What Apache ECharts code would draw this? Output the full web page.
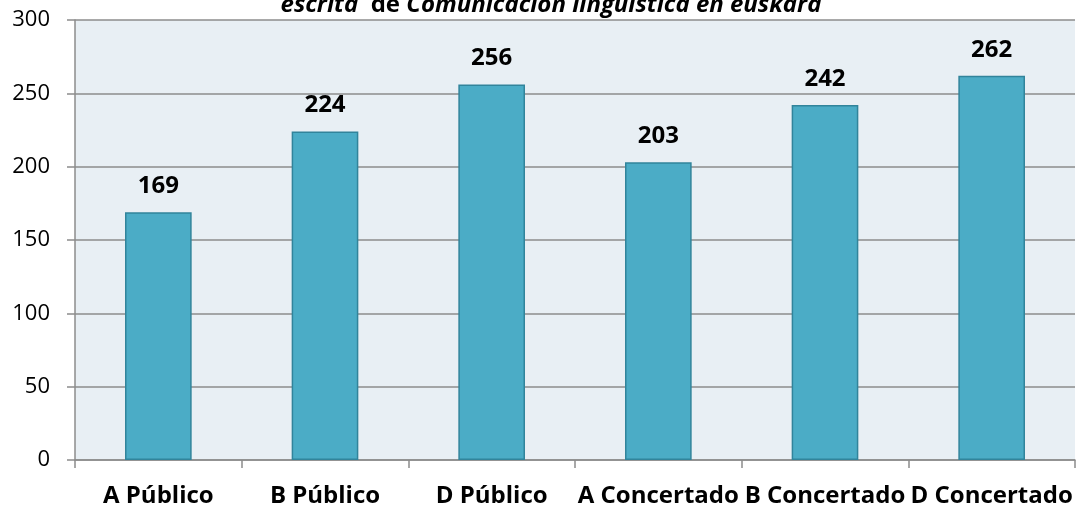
<!DOCTYPE html>
<html>
<head>
<meta charset="utf-8">
<script src="https://cdn.jsdelivr.net/npm/echarts@6/dist/echarts.min.js"></script>
<style>
  html, body { margin: 0; padding: 0; background: #fff; }
  #chart { width: 1078px; height: 512px; }
</style>
</head>
<body>
<div id="chart"></div>
<script>
var categories = ["A Público", "B Público", "D Público", "A Concertado", "B Concertado", "D Concertado"];
var values = [169, 224, 256, 203, 242, 262];
var yTicks = [0, 50, 100, 150, 200, 250, 300];

var myChart = echarts.init(document.getElementById("chart"));
var option = {
  backgroundColor: "#ffffff",
  textStyle: { fontFamily: "Open Sans" },
  title: {
    // only the bottom of the title is visible in the original
    text: "{i|escrita}  {n|de} {i|Comunicación lingüística en euskara}",
    left: 546,
    textAlign: "center",
    top: -12,
    textStyle: {
      fontSize: 24,
      fontWeight: "bold",
      fontFamily: "Open Sans",
      color: "#000",
      rich: {
        i: { fontSize: 24, fontWeight: "bold", fontStyle: "italic", color: "#000", fontFamily: "Open Sans" },
        n: { fontSize: 24, fontWeight: "bold", color: "#000", fontFamily: "Open Sans" }
      }
    }
  },
  grid: {
    left: 75,
    right: 3,
    top: 20,
    bottom: 52,
    containLabel: false,
    show: true,
    backgroundColor: "#e8eff4",
    borderWidth: 0
  },
  xAxis: {
    type: "category",
    data: categories,
    axisLine: { show: true, lineStyle: { color: "#8c8c8c", width: 1.5 } },
    axisTick: { show: true, length: 8, alignWithLabel: false, lineStyle: { color: "#8c8c8c", width: 1.5 } },
    axisLabel: {
      interval: 0,
      margin: 24,
      fontSize: 24,
      fontWeight: "bold",
      color: "#000",
      fontFamily: "Open Sans"
    }
  },
  yAxis: {
    type: "value",
    min: yTicks[0],
    max: yTicks[yTicks.length - 1],
    interval: 50,
    axisLine: { show: true, lineStyle: { color: "#8c8c8c", width: 1.5 } },
    axisTick: { show: true, inside: false, length: 8, lineStyle: { color: "#8c8c8c", width: 1.5 } },
    splitLine: { show: true, lineStyle: { color: "#8c8c8c", width: 1.5 } },
    axisLabel: { fontSize: 22, color: "#000", margin: 25, fontFamily: "Open Sans" }
  },
  series: [
    {
      type: "bar",
      data: values,
      barWidth: "40%",
      itemStyle: { color: "#4bacc6", borderColor: "#31849b", borderWidth: 1.5 },
      label: {
        show: true,
        position: "top",
        distance: 14,
        fontSize: 24,
        fontWeight: "bold",
        color: "#000",
        fontFamily: "Open Sans"
      }
    }
  ]
};
myChart.setOption(option);
</script>
</body>
</html>
